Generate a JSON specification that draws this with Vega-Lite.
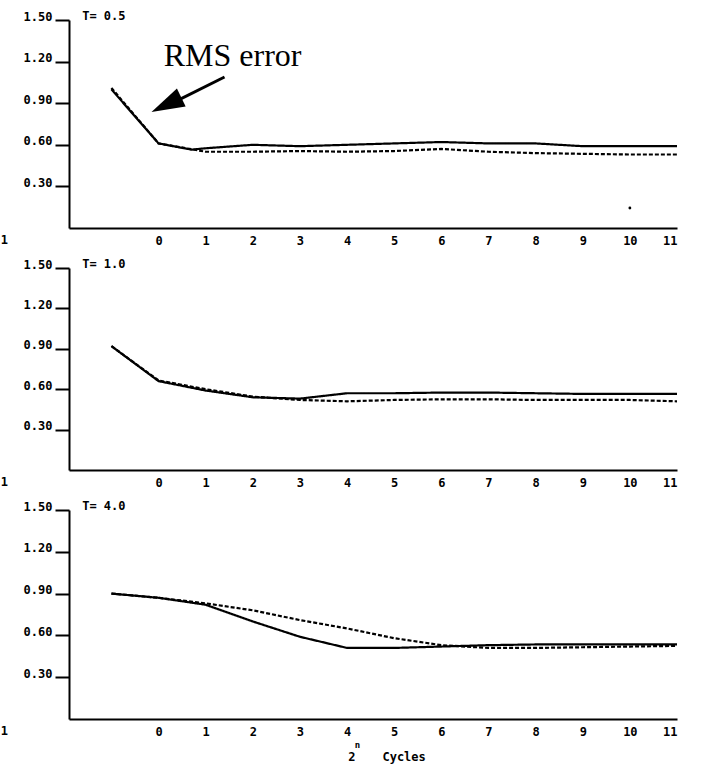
{
  "$schema": "https://vega.github.io/schema/vega-lite/v6.json",
  "background": "white",
  "padding": {"left": 0, "top": 10, "right": 20, "bottom": 10},
  "config": {
    "view": {"stroke": null},
    "axis": {"labelFont": "DejaVu Sans Mono", "labelFontWeight": "bold", "labelFontSize": 12, "labelColor": "black", "domainColor": "black", "domainWidth": 2, "tickColor": "black", "tickWidth": 2, "grid": false, "title": null},
    "text": {"font": "DejaVu Sans Mono", "fontWeight": "bold", "fontSize": 12, "color": "black"}
  },
  "datasets": {
    "curves": [
      {"panel": "T= 0.5", "series": "solid", "x": -1, "y": 1.0},
      {"panel": "T= 0.5", "series": "solid", "x": 0, "y": 0.61},
      {"panel": "T= 0.5", "series": "solid", "x": 0.7, "y": 0.565},
      {"panel": "T= 0.5", "series": "solid", "x": 1, "y": 0.575},
      {"panel": "T= 0.5", "series": "solid", "x": 2, "y": 0.6},
      {"panel": "T= 0.5", "series": "solid", "x": 3, "y": 0.59},
      {"panel": "T= 0.5", "series": "solid", "x": 4, "y": 0.6},
      {"panel": "T= 0.5", "series": "solid", "x": 5, "y": 0.61},
      {"panel": "T= 0.5", "series": "solid", "x": 6, "y": 0.62},
      {"panel": "T= 0.5", "series": "solid", "x": 7, "y": 0.61},
      {"panel": "T= 0.5", "series": "solid", "x": 8, "y": 0.61},
      {"panel": "T= 0.5", "series": "solid", "x": 9, "y": 0.59},
      {"panel": "T= 0.5", "series": "solid", "x": 10, "y": 0.59},
      {"panel": "T= 0.5", "series": "solid", "x": 11, "y": 0.59},
      {"panel": "T= 0.5", "series": "dashed", "x": -1, "y": 1.01},
      {"panel": "T= 0.5", "series": "dashed", "x": 0, "y": 0.61},
      {"panel": "T= 0.5", "series": "dashed", "x": 1, "y": 0.55},
      {"panel": "T= 0.5", "series": "dashed", "x": 2, "y": 0.55},
      {"panel": "T= 0.5", "series": "dashed", "x": 3, "y": 0.555},
      {"panel": "T= 0.5", "series": "dashed", "x": 4, "y": 0.55},
      {"panel": "T= 0.5", "series": "dashed", "x": 5, "y": 0.555},
      {"panel": "T= 0.5", "series": "dashed", "x": 6, "y": 0.57},
      {"panel": "T= 0.5", "series": "dashed", "x": 7, "y": 0.55},
      {"panel": "T= 0.5", "series": "dashed", "x": 8, "y": 0.54},
      {"panel": "T= 0.5", "series": "dashed", "x": 9, "y": 0.535},
      {"panel": "T= 0.5", "series": "dashed", "x": 10, "y": 0.53},
      {"panel": "T= 0.5", "series": "dashed", "x": 11, "y": 0.53},
      {"panel": "T= 1.0", "series": "solid", "x": -1, "y": 0.92},
      {"panel": "T= 1.0", "series": "solid", "x": 0, "y": 0.66},
      {"panel": "T= 1.0", "series": "solid", "x": 1, "y": 0.59},
      {"panel": "T= 1.0", "series": "solid", "x": 2, "y": 0.54},
      {"panel": "T= 1.0", "series": "solid", "x": 3, "y": 0.53},
      {"panel": "T= 1.0", "series": "solid", "x": 3.5, "y": 0.55},
      {"panel": "T= 1.0", "series": "solid", "x": 4, "y": 0.57},
      {"panel": "T= 1.0", "series": "solid", "x": 5, "y": 0.57},
      {"panel": "T= 1.0", "series": "solid", "x": 6, "y": 0.575},
      {"panel": "T= 1.0", "series": "solid", "x": 7, "y": 0.575},
      {"panel": "T= 1.0", "series": "solid", "x": 8, "y": 0.57},
      {"panel": "T= 1.0", "series": "solid", "x": 9, "y": 0.565},
      {"panel": "T= 1.0", "series": "solid", "x": 10, "y": 0.565},
      {"panel": "T= 1.0", "series": "solid", "x": 11, "y": 0.565},
      {"panel": "T= 1.0", "series": "dashed", "x": -1, "y": 0.92},
      {"panel": "T= 1.0", "series": "dashed", "x": 0, "y": 0.665},
      {"panel": "T= 1.0", "series": "dashed", "x": 1, "y": 0.6},
      {"panel": "T= 1.0", "series": "dashed", "x": 2, "y": 0.545},
      {"panel": "T= 1.0", "series": "dashed", "x": 3, "y": 0.52},
      {"panel": "T= 1.0", "series": "dashed", "x": 4, "y": 0.51},
      {"panel": "T= 1.0", "series": "dashed", "x": 5, "y": 0.52},
      {"panel": "T= 1.0", "series": "dashed", "x": 6, "y": 0.525},
      {"panel": "T= 1.0", "series": "dashed", "x": 7, "y": 0.525},
      {"panel": "T= 1.0", "series": "dashed", "x": 8, "y": 0.52},
      {"panel": "T= 1.0", "series": "dashed", "x": 9, "y": 0.52},
      {"panel": "T= 1.0", "series": "dashed", "x": 10, "y": 0.52},
      {"panel": "T= 1.0", "series": "dashed", "x": 11, "y": 0.51},
      {"panel": "T= 4.0", "series": "solid", "x": -1, "y": 0.9},
      {"panel": "T= 4.0", "series": "solid", "x": 0, "y": 0.87},
      {"panel": "T= 4.0", "series": "solid", "x": 1, "y": 0.82},
      {"panel": "T= 4.0", "series": "solid", "x": 2, "y": 0.7},
      {"panel": "T= 4.0", "series": "solid", "x": 3, "y": 0.59},
      {"panel": "T= 4.0", "series": "solid", "x": 4, "y": 0.51},
      {"panel": "T= 4.0", "series": "solid", "x": 5, "y": 0.51},
      {"panel": "T= 4.0", "series": "solid", "x": 6, "y": 0.52},
      {"panel": "T= 4.0", "series": "solid", "x": 7, "y": 0.53},
      {"panel": "T= 4.0", "series": "solid", "x": 8, "y": 0.535},
      {"panel": "T= 4.0", "series": "solid", "x": 9, "y": 0.535},
      {"panel": "T= 4.0", "series": "solid", "x": 10, "y": 0.535},
      {"panel": "T= 4.0", "series": "solid", "x": 11, "y": 0.535},
      {"panel": "T= 4.0", "series": "dashed", "x": -1, "y": 0.9},
      {"panel": "T= 4.0", "series": "dashed", "x": 0, "y": 0.87},
      {"panel": "T= 4.0", "series": "dashed", "x": 1, "y": 0.83},
      {"panel": "T= 4.0", "series": "dashed", "x": 2, "y": 0.78},
      {"panel": "T= 4.0", "series": "dashed", "x": 3, "y": 0.71},
      {"panel": "T= 4.0", "series": "dashed", "x": 4, "y": 0.65},
      {"panel": "T= 4.0", "series": "dashed", "x": 5, "y": 0.58},
      {"panel": "T= 4.0", "series": "dashed", "x": 6, "y": 0.53},
      {"panel": "T= 4.0", "series": "dashed", "x": 7, "y": 0.51},
      {"panel": "T= 4.0", "series": "dashed", "x": 8, "y": 0.51},
      {"panel": "T= 4.0", "series": "dashed", "x": 9, "y": 0.515},
      {"panel": "T= 4.0", "series": "dashed", "x": 10, "y": 0.52},
      {"panel": "T= 4.0", "series": "dashed", "x": 11, "y": 0.525}
    ]
  },
  "spacing": 40,
  "bounds": "flush",
  "vconcat": [
    {
      "width": 608, "height": 208,
      "layer": [
        {
          "data": {"name": "curves"},
          "transform": [{"filter": "datum.panel == 'T= 0.5'"}],
          "mark": {"type": "line", "color": "black", "strokeWidth": 2.2},
          "encoding": {
            "x": {"field": "x", "type": "quantitative", "scale": {"domain": [-1.9, 11], "nice": false, "zero": false}, "axis": {"values": [0,1,2,3,4,5,6,7,8,9,10,11], "format": "d", "ticks": false, "labelPadding": 7}},
            "y": {"field": "y", "type": "quantitative", "scale": {"domain": [0, 1.5], "nice": false}, "axis": {"values": [0.3,0.6,0.9,1.2,1.5], "format": ".2f", "tickSize": 14, "labelBaseline": "alphabetic", "labelPadding": 3}},
            "strokeDash": {"field": "series", "type": "nominal", "scale": {"domain": ["solid", "dashed"], "range": [[1, 0], [4, 2]]}, "legend": null}
          }
        },
        {"data": {"values": [{"label": "T= 0.5", "x": -1.62, "y": 1.5}]}, "mark": {"type": "text", "align": "left", "baseline": "middle", "dy": -4}, "encoding": {"x": {"field": "x", "type": "quantitative"}, "y": {"field": "y", "type": "quantitative"}, "text": {"field": "label"}}},
        {"data": {"values": [{"label": "1", "x": -3.27, "y": 0}]}, "mark": {"type": "text", "align": "center", "baseline": "top", "dy": 7}, "encoding": {"x": {"field": "x", "type": "quantitative"}, "y": {"field": "y", "type": "quantitative"}, "text": {"field": "label"}}},
        {"data": {"values": [{"label": "RMS error", "x": 1.57, "y": 1.17}]}, "mark": {"type": "text", "align": "center", "baseline": "alphabetic", "font": "Liberation Serif", "fontWeight": "normal", "fontSize": 32}, "encoding": {"x": {"field": "x", "type": "quantitative"}, "y": {"field": "y", "type": "quantitative"}, "text": {"field": "label"}}},
        {"data": {"values": [{"x": 1.4, "y": 1.089, "x2": 0.3, "y2": 0.903}]}, "mark": {"type": "rule", "color": "black", "strokeWidth": 3}, "encoding": {"x": {"field": "x", "type": "quantitative"}, "y": {"field": "y", "type": "quantitative"}, "x2": {"field": "x2"}, "y2": {"field": "y2"}}},
        {"data": {"values": [{"x": -0.15, "y": 0.836}]}, "mark": {"type": "point", "shape": "M0,0 L-2,-0.6 L-2,0.6 Z", "filled": true, "color": "black", "opacity": 1, "size": 1100, "angle": 154}, "encoding": {"x": {"field": "x", "type": "quantitative"}, "y": {"field": "y", "type": "quantitative"}}},
        {"data": {"values": [{"x": 10, "y": 0.144}]}, "mark": {"type": "point", "filled": true, "color": "black", "opacity": 1, "size": 8}, "encoding": {"x": {"field": "x", "type": "quantitative"}, "y": {"field": "y", "type": "quantitative"}}}
      ]
    },
    {
      "width": 608, "height": 202,
      "layer": [
        {
          "data": {"name": "curves"},
          "transform": [{"filter": "datum.panel == 'T= 1.0'"}],
          "mark": {"type": "line", "color": "black", "strokeWidth": 2.2},
          "encoding": {
            "x": {"field": "x", "type": "quantitative", "scale": {"domain": [-1.9, 11], "nice": false, "zero": false}, "axis": {"values": [0,1,2,3,4,5,6,7,8,9,10,11], "format": "d", "ticks": false, "labelPadding": 7}},
            "y": {"field": "y", "type": "quantitative", "scale": {"domain": [0, 1.5], "nice": false}, "axis": {"values": [0.3,0.6,0.9,1.2,1.5], "format": ".2f", "tickSize": 14, "labelBaseline": "alphabetic", "labelPadding": 3}},
            "strokeDash": {"field": "series", "type": "nominal", "scale": {"domain": ["solid", "dashed"], "range": [[1, 0], [4, 2]]}, "legend": null}
          }
        },
        {"data": {"values": [{"label": "T= 1.0", "x": -1.62, "y": 1.5}]}, "mark": {"type": "text", "align": "left", "baseline": "middle", "dy": -4}, "encoding": {"x": {"field": "x", "type": "quantitative"}, "y": {"field": "y", "type": "quantitative"}, "text": {"field": "label"}}},
        {"data": {"values": [{"label": "1", "x": -3.27, "y": 0}]}, "mark": {"type": "text", "align": "center", "baseline": "top", "dy": 7}, "encoding": {"x": {"field": "x", "type": "quantitative"}, "y": {"field": "y", "type": "quantitative"}, "text": {"field": "label"}}}
      ]
    },
    {
      "width": 608, "height": 209,
      "layer": [
        {
          "data": {"name": "curves"},
          "transform": [{"filter": "datum.panel == 'T= 4.0'"}],
          "mark": {"type": "line", "color": "black", "strokeWidth": 2.2},
          "encoding": {
            "x": {"field": "x", "type": "quantitative", "scale": {"domain": [-1.9, 11], "nice": false, "zero": false}, "axis": {"values": [0,1,2,3,4,5,6,7,8,9,10,11], "format": "d", "ticks": false, "labelPadding": 7}},
            "y": {"field": "y", "type": "quantitative", "scale": {"domain": [0, 1.5], "nice": false}, "axis": {"values": [0.3,0.6,0.9,1.2,1.5], "format": ".2f", "tickSize": 14, "labelBaseline": "alphabetic", "labelPadding": 3}},
            "strokeDash": {"field": "series", "type": "nominal", "scale": {"domain": ["solid", "dashed"], "range": [[1, 0], [4, 2]]}, "legend": null}
          }
        },
        {"data": {"values": [{"label": "T= 4.0", "x": -1.62, "y": 1.5}]}, "mark": {"type": "text", "align": "left", "baseline": "middle", "dy": -4}, "encoding": {"x": {"field": "x", "type": "quantitative"}, "y": {"field": "y", "type": "quantitative"}, "text": {"field": "label"}}},
        {"data": {"values": [{"label": "1", "x": -3.27, "y": 0}]}, "mark": {"type": "text", "align": "center", "baseline": "top", "dy": 7}, "encoding": {"x": {"field": "x", "type": "quantitative"}, "y": {"field": "y", "type": "quantitative"}, "text": {"field": "label"}}},
        {"data": {"values": [{"label": "2", "x": 4.1, "y": 0}]}, "mark": {"type": "text", "align": "center", "baseline": "middle", "dy": 38}, "encoding": {"x": {"field": "x", "type": "quantitative"}, "y": {"field": "y", "type": "quantitative"}, "text": {"field": "label"}}},
        {"data": {"values": [{"label": "n", "x": 4.22, "y": 0}]}, "mark": {"type": "text", "align": "center", "baseline": "middle", "dy": 26, "fontSize": 9}, "encoding": {"x": {"field": "x", "type": "quantitative"}, "y": {"field": "y", "type": "quantitative"}, "text": {"field": "label"}}},
        {"data": {"values": [{"label": "Cycles", "x": 4.75, "y": 0}]}, "mark": {"type": "text", "align": "left", "baseline": "middle", "dy": 38}, "encoding": {"x": {"field": "x", "type": "quantitative"}, "y": {"field": "y", "type": "quantitative"}, "text": {"field": "label"}}}
      ]
    }
  ]
}
